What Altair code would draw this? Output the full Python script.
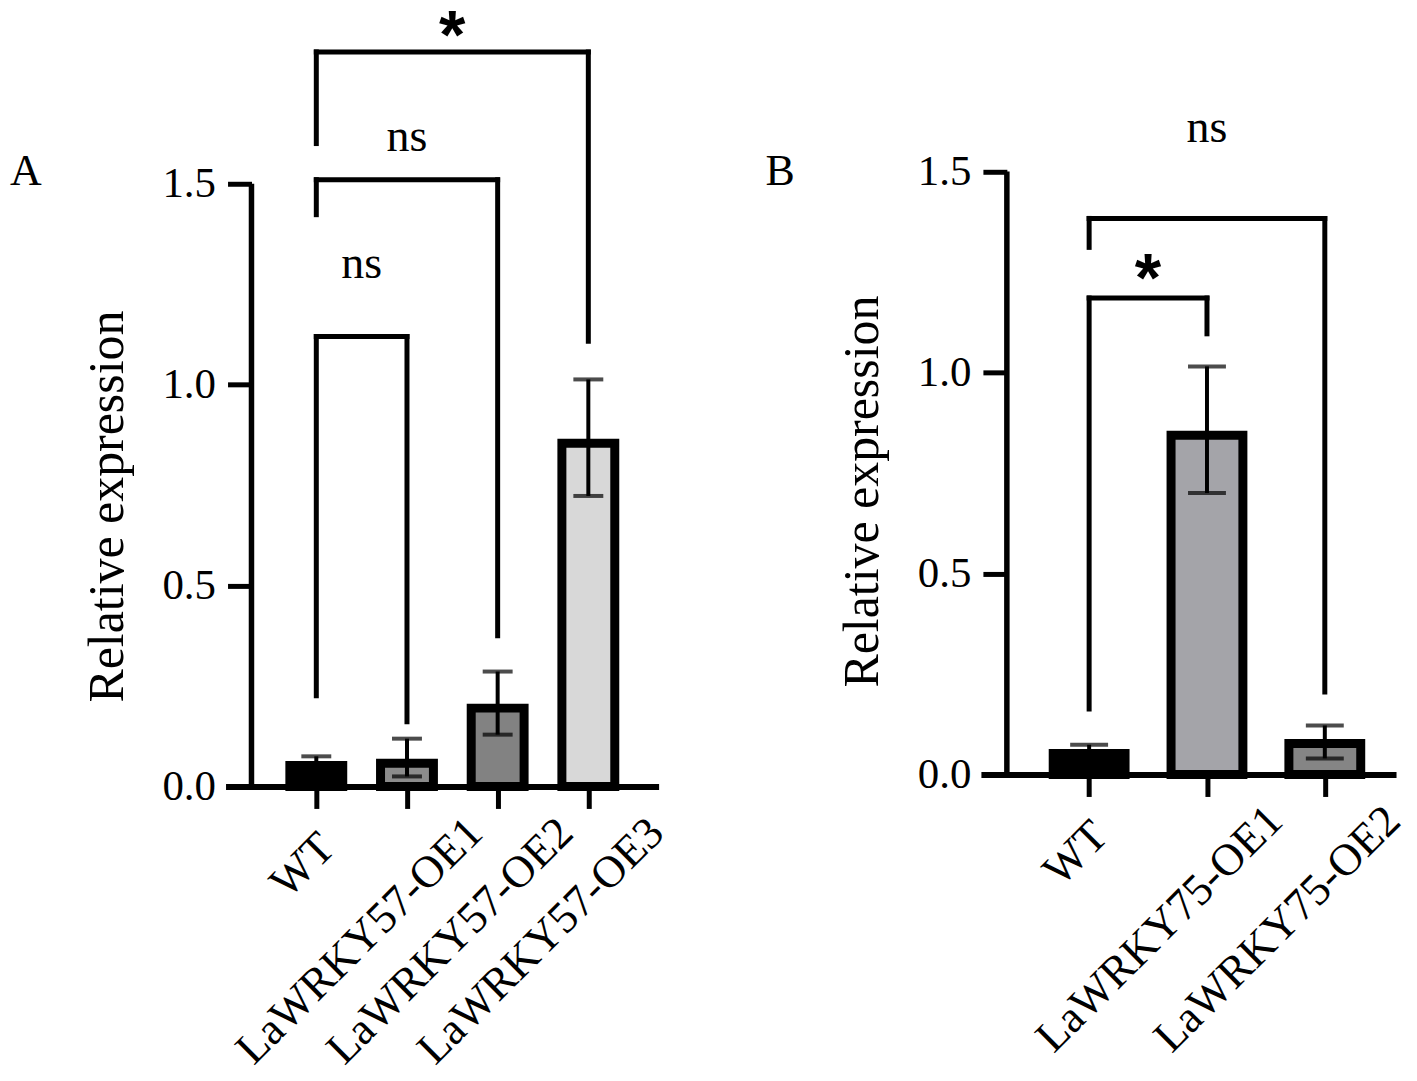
import json
import altair as alt
import pandas as pd

# ---------------- data ----------------
# Panel A
names_A = ["WT", "LaWRKY57-OE1", "LaWRKY57-OE2", "LaWRKY57-OE3"]
mean_A = [0.052, 0.058, 0.195, 0.854]
low_A = [0.045, 0.025, 0.129, 0.723]
high_A = [0.075, 0.119, 0.286, 1.013]
colors_A = ["#000000", "#8c8c8c", "#828282", "#d8d8d8"]

brk_A_from = [0, 0, 0]
brk_A_to = [1, 2, 3]
brk_A_top = [1.12, 1.51, 1.828]
brk_A_left = [0.226, 1.423, 1.60]
brk_A_right = [0.161, 0.375, 1.108]
brk_A_text = ["ns", "ns", "*"]
brk_A_text_y = [1.299, 1.617, 1.902]

# Panel B
names_B = ["WT", "LaWRKY75-OE1", "LaWRKY75-OE2"]
mean_B = [0.052, 0.844, 0.077]
low_B = [0.045, 0.700, 0.040]
high_B = [0.074, 1.015, 0.122]
colors_B = ["#000000", "#a4a4a9", "#858585"]

brk_B_from = [0, 0]
brk_B_to = [1, 2]
brk_B_top = [1.185, 1.383]
brk_B_left = [0.163, 1.311]
brk_B_right = [1.096, 0.205]
brk_B_text = ["*", "ns"]
brk_B_text_y = [1.266, 1.608]

y_ticks = [0.0, 0.5, 1.0, 1.5]

SERIF = "Liberation Serif"


def panel(names, means, lows, highs, colors, b_from, b_to, b_top, b_left,
          b_right, b_text, b_text_y, letter, x_domain, y_domain, width, height,
          bar_size, cap_size, title_y):
    n = len(names)
    bars = pd.DataFrame({
        "idx": list(range(n)),
        "group": names,
        "mean": means,
        "lo": lows,
        "hi": highs,
    })
    brk = pd.DataFrame({
        "i1": b_from, "i2": b_to, "top": b_top, "left": b_left,
        "right": b_right, "label": b_text, "ly": b_text_y,
    })

    label_expr = json.dumps(names) + "[datum.value]"
    x_enc = alt.X(
        "idx:Q",
        scale=alt.Scale(domain=x_domain, nice=False, zero=False),
        axis=alt.Axis(
            values=list(range(n)), labelExpr=label_expr, title=None,
            grid=False, domainColor="black", domainWidth=6,
            tickColor="black", tickWidth=5, tickSize=22,
            labelFont=SERIF, labelFontSize=45, labelColor="black",
            labelAngle=-45, labelAlign="right", labelBaseline="top",
            labelPadding={"condition": {"test": "datum.value == 0", "value": 16},
                          "value": 1},
            labelOffset={"condition": {"test": "datum.value == 0", "value": -5},
                         "value": 52},
            labelOverlap=False, labelBound=False, labelFlush=False,
            labelLimit=1000,
        ),
    )
    y_enc = alt.Y(
        "mean:Q",
        scale=alt.Scale(domain=y_domain, nice=False, zero=True),
        axis=alt.Axis(
            values=y_ticks, format=".1f", title="Relative expression",
            grid=False, domain=False, offset=-26,
            tickColor="black", tickWidth=5, tickSize=24,
            labelFont=SERIF, labelFontSize=43, labelColor="black",
            labelPadding=12, titleFont=SERIF, titleFontSize=50,
            titleFontWeight="normal", titleColor="black", titlePadding=30,
            titleY=title_y,
        ),
    )

    base = alt.Chart(bars)
    bar_layer = base.mark_bar(
        size=bar_size, stroke="black", strokeWidth=9, orient="vertical"
    ).encode(
        x=x_enc,
        y=y_enc,
        y2=alt.datum(0),
        color=alt.Color("group:N", scale=alt.Scale(domain=names, range=colors),
                        legend=None),
    )
    err_layer = base.mark_rule(color="black", strokeWidth=4).encode(
        x="idx:Q", y="lo:Q", y2="hi:Q"
    )
    cap_layer = base.transform_fold(["lo", "hi"], as_=["k", "v"]).mark_tick(
        orient="horizontal", size=cap_size, thickness=4, color="black"
    ).encode(x="idx:Q", y="v:Q")

    yaxis_line = alt.Chart(pd.DataFrame({"a": [y_ticks[0]], "b": [y_ticks[-1]]})).mark_rule(
        color="black", strokeWidth=5.5
    ).encode(x=alt.value(26), y="a:Q", y2="b:Q")

    bb = alt.Chart(brk)
    rule_kw = dict(color="black", strokeWidth=5, strokeCap="square")
    h_line = bb.mark_rule(**rule_kw).encode(x="i1:Q", x2="i2:Q", y="top:Q")
    l_line = bb.mark_rule(**rule_kw).encode(x="i1:Q", y="left:Q", y2="top:Q")
    r_line = bb.mark_rule(**rule_kw).encode(x="i2:Q", y="right:Q", y2="top:Q")

    lab = bb.transform_calculate(mid="(datum.i1 + datum.i2) / 2")
    ns_text = lab.transform_filter("datum.label == 'ns'").mark_text(
        font=SERIF, fontSize=46, color="black", baseline="middle", align="center"
    ).encode(x="mid:Q", y="ly:Q", text="label:N")
    star_text = lab.transform_filter("datum.label == '*'").mark_text(
        font="Liberation Sans", fontSize=68, fontWeight="bold", color="black",
        baseline="middle", align="center", dy=16
    ).encode(x="mid:Q", y="ly:Q", text="label:N")

    letter_text = alt.Chart(pd.DataFrame({"t": [letter]})).mark_text(
        font=SERIF, fontSize=44, color="black", baseline="alphabetic", align="left"
    ).encode(x=alt.value(-216), y=alt.value(177), text="t:N")

    return alt.layer(
        bar_layer, err_layer, cap_layer, yaxis_line, h_line, l_line, r_line,
        ns_text, star_text, letter_text
    ).properties(width=width, height=height)


chart_A = panel(names_A, mean_A, low_A, high_A, colors_A, brk_A_from, brk_A_to,
                brk_A_top, brk_A_left, brk_A_right, brk_A_text, brk_A_text_y,
                "A", [-0.946, 3.720], [0, 1.937], 434, 780, 53, 30, 499)
chart_B = panel(names_B, mean_B, low_B, high_B, colors_B, brk_B_from, brk_B_to,
                brk_B_top, brk_B_left, brk_B_right, brk_B_text, brk_B_text_y,
                "B", [-0.876, 2.562], [0, 1.906], 416, 768, 72, 38, 484)

chart = alt.hconcat(chart_A, chart_B, spacing=323, bounds="flush").resolve_scale(
    color="independent"
).properties(
    padding={"left": 2, "top": -5, "right": 0, "bottom": 0}
).configure_view(stroke=None)

chart.save("out.html", embed_options={"renderer": "svg", "actions": False})
